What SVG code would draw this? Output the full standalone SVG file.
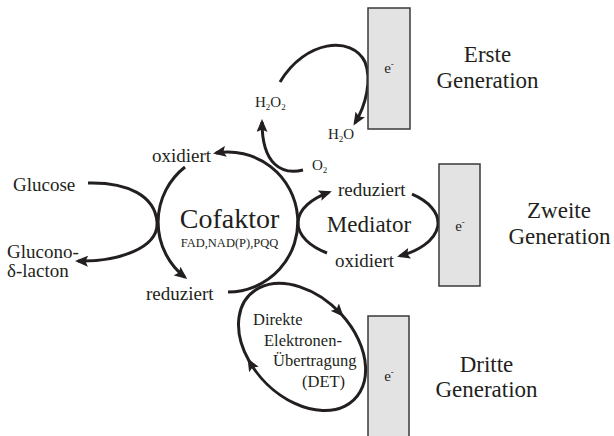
<svg xmlns="http://www.w3.org/2000/svg" width="614" height="436" viewBox="0 0 614 436" font-family="'Liberation Serif', 'Times New Roman', 'DejaVu Serif', serif">
<defs>
<style>
text{font-family:'Liberation Serif','Times New Roman','DejaVu Serif',serif;fill:#231f20}
.lbl{font-size:19px}
.gen{font-size:23px;text-anchor:middle}
.chem{font-size:15px}
.sub{font-size:9px}
.det{font-size:16.5px}
.el{fill:#e3e3e3;stroke:#3a3a3a;stroke-width:1.5}
.ee{font-size:15px;text-anchor:middle}
.c{fill:none;stroke:#231f20;stroke-width:3}
.a{marker-end:url(#ah)}
</style>
<marker id="ah" markerUnits="userSpaceOnUse" markerWidth="13" markerHeight="11" viewBox="0 0 13 11" refX="10" refY="5.5" orient="auto">
<path d="M0,0 L13,5.5 L0,11 L2.5,5.5 z" fill="#231f20"/>
</marker>
</defs>
<rect width="614" height="436" fill="#ffffff"/>

<g id="connectors">
<path class="c a" d="M88 183 C128 182,155 196,157 222 C159 248,118 262,78 261"/>
<path class="c a" d="M185 167 A70 70 0 0 0 184.9 277.2"/>
<path class="c a" d="M228 292 A70 70 0 1 0 216 153"/>
<path class="c a" d="M303 170 C282 175,262 165,262 122"/>
<path class="c a" d="M280 82 C305 40,352 35,365 62 C372 80,366 105,355 123"/>
<path class="c a" d="M327 253 A70 37 0 0 1 329 192.3"/>
<path class="c a" d="M412 194.2 A70 37 0 0 1 400 255.9"/>
<path class="c a" d="M249 360.8 A74 51 45 0 1 341.6 314.6"/>
<path class="c a" d="M341.6 314.6 A74 51 45 1 1 249 360.8"/>
</g>

<g id="electrode1">
<rect class="el" x="368" y="8" width="42" height="121"/>
<text class="ee" x="389" y="73">e<tspan class="sub" dy="-6">-</tspan></text>
</g>
<g id="electrode2">
<rect class="el" x="439" y="164" width="41" height="122"/>
<text class="ee" x="460" y="231">e<tspan class="sub" dy="-6">-</tspan></text>
</g>
<g id="electrode3">
<rect class="el" x="368" y="316" width="41" height="126"/>
<text class="ee" x="389" y="381">e<tspan class="sub" dy="-6">-</tspan></text>
</g>

<g id="cofaktor">
<text x="229.5" y="228" font-size="28" text-anchor="middle">Cofaktor</text>
<text x="229.5" y="247" font-size="12.5" text-anchor="middle">FAD,NAD(P),PQQ</text>
</g>
<g id="mediator">
<text x="369" y="232" font-size="23" text-anchor="middle">Mediator</text>
</g>
<g id="det">
<text class="det" x="253" y="325">Direkte</text>
<text class="det" x="264" y="346">Elektronen-</text>
<text class="det" x="273" y="366">Übertragung</text>
<text class="det" x="302" y="387">(DET)</text>
</g>

<g id="labels">
<text class="lbl" x="13" y="191">Glucose</text>
<text class="lbl" x="7" y="258">Glucono-</text>
<text class="lbl" x="7" y="277">δ-lacton</text>
<text class="lbl" x="152" y="162">oxidiert</text>
<text class="lbl" x="146" y="300">reduziert</text>
<text class="lbl" x="338" y="196">reduziert</text>
<text class="lbl" x="335" y="267">oxidiert</text>
<text class="chem" x="255" y="107">H<tspan class="sub" dy="3">2</tspan><tspan dy="-3">O</tspan><tspan class="sub" dy="3">2</tspan></text>
<text class="chem" x="328" y="139">H<tspan class="sub" dy="3">2</tspan><tspan dy="-3">O</tspan></text>
<text class="chem" x="312" y="170">O<tspan class="sub" dy="3">2</tspan></text>
</g>

<g id="generations">
<text class="gen" x="487.5" y="62">Erste</text>
<text class="gen" x="487.5" y="88">Generation</text>
<text class="gen" x="559" y="218">Zweite</text>
<text class="gen" x="559.5" y="244">Generation</text>
<text class="gen" x="486.5" y="372">Dritte</text>
<text class="gen" x="486.5" y="397">Generation</text>
</g>
</svg>
